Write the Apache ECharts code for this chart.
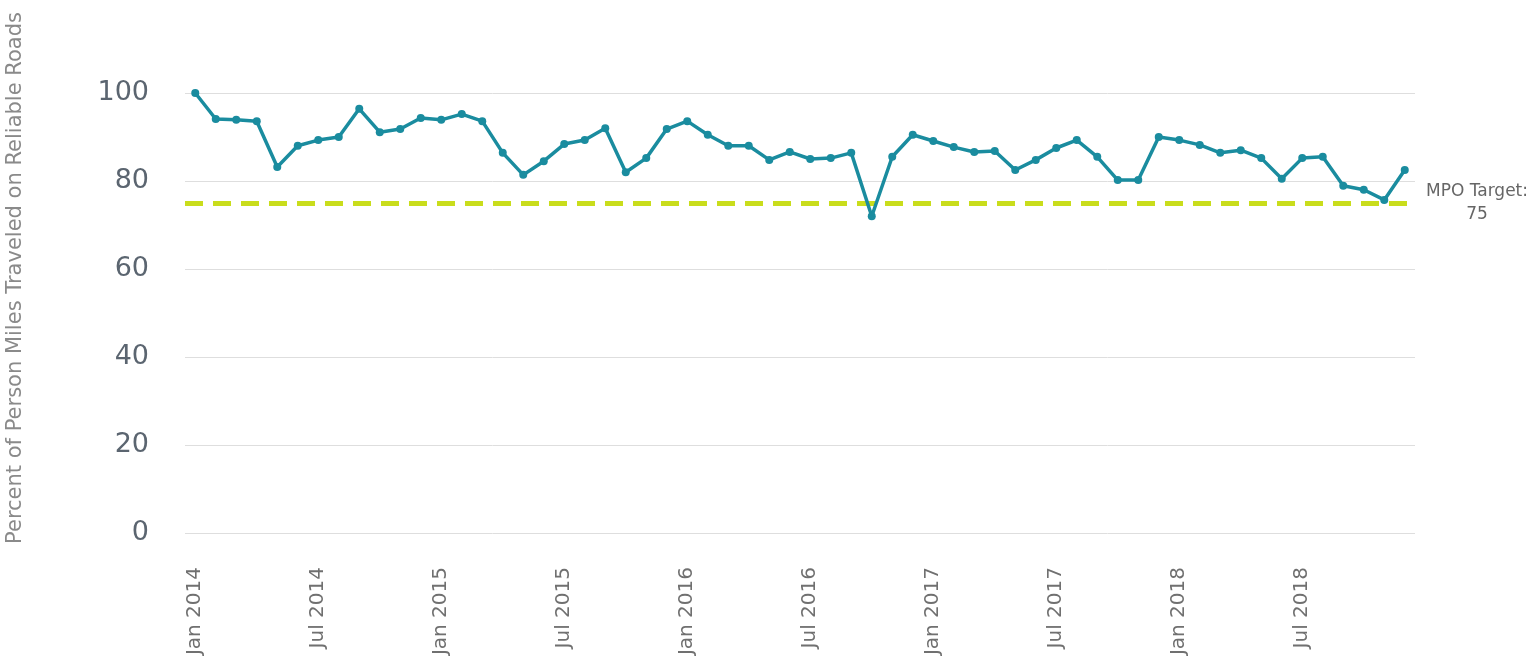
<!DOCTYPE html>
<html>
<head>
<meta charset="utf-8">
<script src="https://cdn.jsdelivr.net/npm/echarts@6/dist/echarts.min.js"></script>
<style>
    html, body { margin: 0; padding: 0; background: #fff; }
    #chart { width: 1535px; height: 661px; }
</style>
</head>
<body>
<div id="chart"></div>
<script>
// monthly values, Jan 2014 .. Dec 2018
const years = [2014, 2015, 2016, 2017, 2018];
const monthNames = ['Jan','Feb','Mar','Apr','May','Jun','Jul','Aug','Sep','Oct','Nov','Dec'];
const months = [];
years.forEach(y => monthNames.forEach(m => months.push(m + ' ' + y)));

const reliable = [
    100, 94.1, 93.9, 93.6, 83.2, 88.0, 89.3, 90.0, 96.4, 91.1, 91.8, 94.3,
    93.9, 95.2, 93.6, 86.4, 81.4, 84.5, 88.4, 89.3, 92.0, 82.0, 85.2, 91.8,
    93.6, 90.5, 88.0, 88.0, 84.8, 86.6, 85.0, 85.2, 86.4, 72.0, 85.5, 90.5,
    89.1, 87.7, 86.6, 86.8, 82.5, 84.8, 87.5, 89.3, 85.5, 80.2, 80.2, 90.0,
    89.3, 88.2, 86.4, 87.0, 85.2, 80.5, 85.2, 85.5, 78.9, 78.0, 75.7, 82.5
];
const target = 75;
const yTicks = [0, 20, 40, 60, 80, 100];

const font = 'DejaVu Sans';

const chart = echarts.init(document.getElementById('chart'));
chart.setOption({
    backgroundColor: '#fff',
    animation: false,
    grid: { left: 185, right: 120, top: 93, bottom: 128 },
    xAxis: {
        type: 'category',
        data: months,
        boundaryGap: true,
        axisLine: { show: false },
        axisTick: { show: false },
        axisLabel: {
            interval: 5,
            rotate: 90,
            margin: 34,
            fontFamily: font,
            fontSize: 20,
            color: '#707070'
        }
    },
    yAxis: {
        type: 'value',
        min: yTicks[0],
        max: yTicks[yTicks.length - 1],
        interval: 20,
        axisLine: { show: false },
        axisTick: { show: false },
        axisLabel: {
            margin: 36,
            fontFamily: font,
            fontSize: 27,
            color: '#5b6570'
        },
        splitLine: { lineStyle: { color: '#dedede', width: 1 } }
    },
    graphic: [{
        type: 'text',
        x: 16,
        y: 278,
        rotation: Math.PI / 2,
        style: {
            text: 'Percent of Person Miles Traveled on Reliable Roads',
            font: '21px "DejaVu Sans"',
            fill: '#8a8a8a',
            align: 'center',
            verticalAlign: 'middle'
        }
    }],
    series: [{
        type: 'line',
        data: reliable,
        symbol: 'circle',
        symbolSize: 8,
        lineStyle: { color: '#1a8c9f', width: 3.5 },
        itemStyle: { color: '#1a8c9f' },
        z: 3,
        markLine: {
            silent: true,
            symbol: 'none',
            z: 2,
            lineStyle: { color: '#c9dd1c', width: 5, type: [18, 10] },
            label: {
                position: 'end',
                formatter: 'MPO Target:\n75',
                fontFamily: font,
                fontSize: 17,
                lineHeight: 23,
                color: '#666',
                align: 'center',
                distance: 62,
                padding: [16, 0, 0, 0]
            },
            data: [{ yAxis: target }]
        }
    }]
});
</script>
</body>
</html>
